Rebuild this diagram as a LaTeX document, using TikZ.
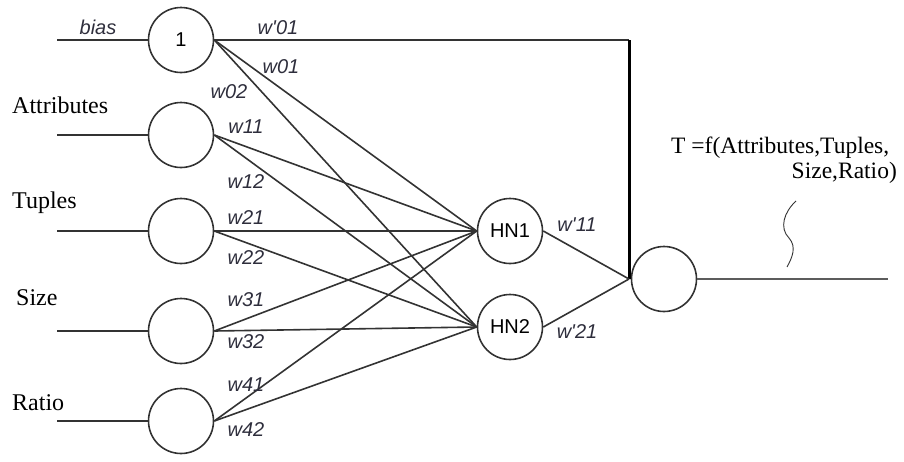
\documentclass[tikz,border=0pt]{standalone}
\usepackage{fontspec}
\setmainfont{Liberation Serif}
\newfontfamily\sansf{Liberation Sans}
\definecolor{ink}{HTML}{333333}
\definecolor{wlab}{HTML}{2E2E3C}
\begin{document}
\begin{tikzpicture}[x=1pt,y=-1pt,
  neuron/.style={circle,draw=ink,line width=1.6pt,minimum size=65pt,inner sep=0pt,font=\sansf\fontsize{20}{24}\selectfont},
  edge/.style={draw=ink,line width=1.6pt},
  wl/.style={font=\sansf\itshape\fontsize{20}{23}\selectfont,text=wlab,inner sep=0pt},
  inl/.style={font=\fontsize{24}{27}\selectfont,inner sep=0pt,anchor=west},
  ftext/.style={font=\fontsize{23.5}{27}\selectfont,inner sep=0pt}]
\useasboundingbox (0,0) rectangle (904,461);
% input layer
\node[neuron] (b) at (181,40) {1};
\node[neuron] (i1) at (181,135) {};
\node[neuron] (i2) at (181,231) {};
\node[neuron] (i3) at (181,331) {};
\node[neuron] (i4) at (181,421) {};
% hidden
\node[neuron] (h1) at (510,231) {HN1};
\node[neuron] (h2) at (510,327) {HN2};
% output
\node[neuron] (o) at (664,279) {};
\coordinate (j) at (629,279);
\coordinate (c) at (629,40);
% input stubs
\coordinate (sb) at (57,40);
\coordinate (s1) at (57,135);
\coordinate (s2) at (57,231);
\coordinate (s3) at (57,331);
\coordinate (s4) at (57,421);
\draw[edge] (sb) -- (b.west);
\draw[edge] (s1) -- (i1.west);
\draw[edge] (s2) -- (i2.west);
\draw[edge] (s3) -- (i3.west);
\draw[edge] (s4) -- (i4.west);
% input to hidden
\foreach \n in {b,i1,i2,i3,i4}{
  \draw[edge] (\n.east) -- (h1.west);
  \draw[edge] (\n.east) -- (h2.west);
}
% bias to output
\draw[edge] (b.east) -- (c);
\draw[black,line width=3pt] (c) -- (j);
\draw[edge] (h1.east) -- (j);
\draw[edge] (h2.east) -- (j);
% output line
\coordinate (oe) at (888,279);
\draw[edge,draw=ink!80] (o.east) -- (oe);
% wavy
\draw[ink,line width=0.9pt] (796,201) .. controls (784,212) and (779,228) .. (789,238) .. controls (797,247) and (792,258) .. (787,267);
% labels
\node[wl] (lbias) at (98,27) {bias};
\node[wl] (lw001) at (278,28) {w'01};
\node[wl] (lw01) at (281,67) {w01};
\node[wl] (lw02) at (229,92) {w02};
\node[wl] (lw11) at (246,127) {w11};
\node[wl] (lw12) at (246,182) {w12};
\node[wl] (lw21) at (246,218) {w21};
\node[wl] (lw22) at (246,258) {w22};
\node[wl] (lw31) at (246,300) {w31};
\node[wl] (lw32) at (246,342) {w32};
\node[wl] (lw41) at (246,385) {w41};
\node[wl] (lw42) at (246,430) {w42};
\node[wl] (lw11p) at (577,225) {w'11};
\node[wl] (lw21p) at (577,332) {w'21};
\node[inl] (la) at (12,105) {Attributes};
\node[inl] (lt) at (12,203) {Tuples};
\node[inl] (ls) at (16,298) {Size};
\node[inl] (lr) at (12,403) {Ratio};
\node[ftext,anchor=base west] (tf) at (671,153) {T =f(Attributes,Tuples,};
\node[ftext,anchor=base east] (tf2) at (897,178) {Size,Ratio)};
\end{tikzpicture}
\end{document}
